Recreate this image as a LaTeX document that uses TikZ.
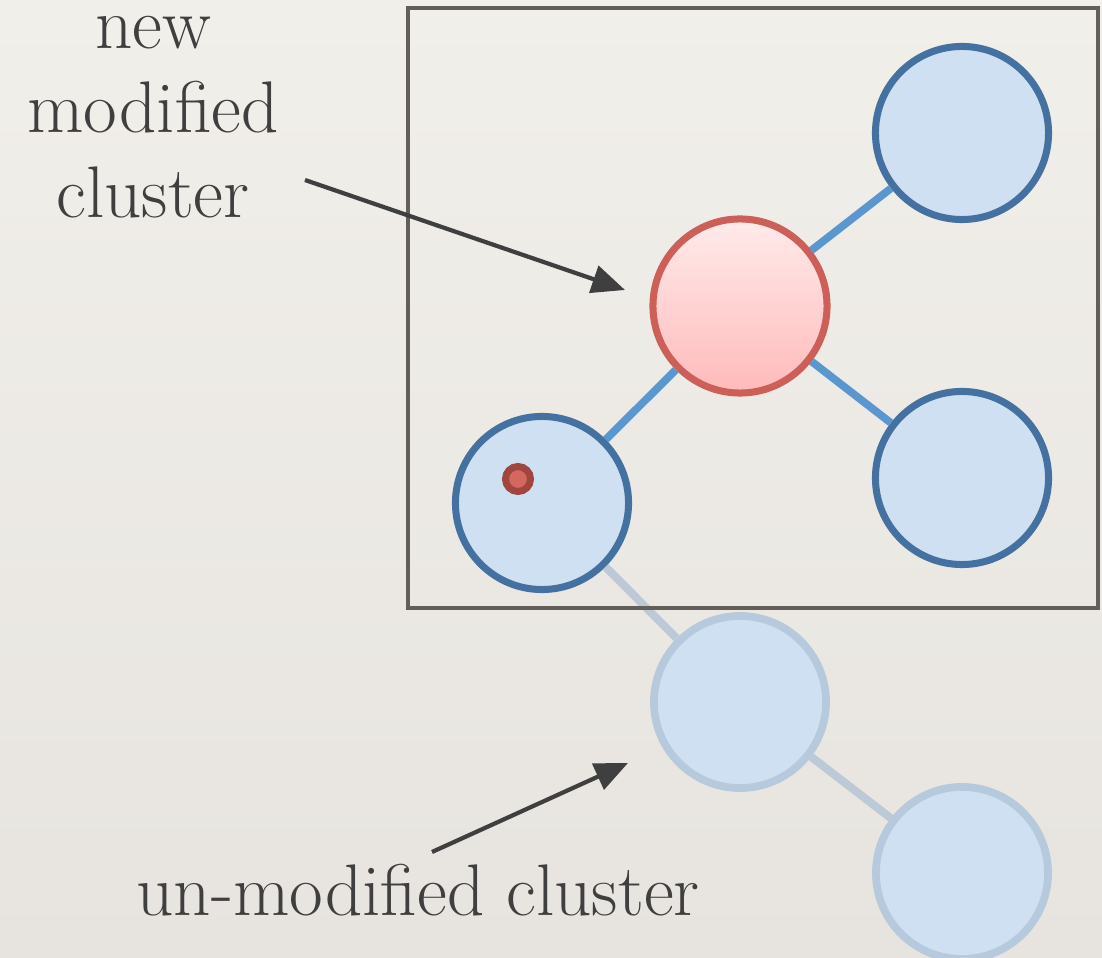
\documentclass[tikz,border=0pt]{standalone}
\usepackage{fontspec}
\usetikzlibrary{positioning,arrows.meta}

\definecolor{paper}{HTML}{F1EFEA}
\definecolor{paperdark}{HTML}{E7E4DF}
\definecolor{ink}{HTML}{3F3F3F}
\definecolor{boxgray}{HTML}{635E58}
\definecolor{nodefill}{HTML}{CFE0F3}
\definecolor{nodeline}{HTML}{44719F}
\definecolor{edgeblue}{HTML}{5B97CF}
\definecolor{redline}{HTML}{CC5F57}
\definecolor{dotline}{HTML}{A0463F}
\definecolor{dotfill}{HTML}{D4675E}
\definecolor{fadeline}{HTML}{B7C9DC}
\definecolor{fadeedge}{HTML}{BCCAD8}

\begin{document}
\begin{tikzpicture}[x=0.01cm,y=-0.01cm,
    cluster/.style={circle,draw=nodeline,fill=nodefill,line width=2pt,minimum size=1.73cm,inner sep=0pt},
    oldcluster/.style={circle,draw=fadeline,fill=nodefill,line width=2.2pt,minimum size=1.72cm,inner sep=0pt},
    link/.style={edgeblue,line width=2.2pt},
    oldlink/.style={fadeedge,line width=2.3pt},
    pointer/.style={ink,line width=1.2pt,-{Triangle[length=0.33cm,width=0.28cm]}},
    label/.style={text=ink,font=\fontsize{20.8}{24}\selectfont,align=center,inner sep=0pt}]

\shade[top color=paper,bottom color=paperdark] (0,0) rectangle (1102,958);
\useasboundingbox (0,0) rectangle (1102,958);

% the modified cluster
\node[circle,draw=redline,top color=red!8,bottom color=red!27,line width=2pt,
      minimum size=1.74cm,inner sep=0pt] (mod) at (740,306) {};
\foreach \name/\x/\y in {tr/962/133, rt/962/478, lf/542/503} {
    \node[cluster] (\name) at (\x,\y) {};
}
\node[circle,draw=dotline,fill=dotfill,line width=2pt,minimum size=0.25cm,inner sep=0pt] (dot) at (518,479) {};

% the old part
\node[oldcluster] (bm) at (740,702) {};
\node[oldcluster] (br) at (962,873) {};

\foreach \a in {tr,rt,lf} {
    \draw[link] (mod) -- (\a);
}
\draw[oldlink] (lf) -- (bm);
\draw[oldlink] (bm) -- (br);

\draw[boxgray,line width=1.3pt] (408,8) rectangle (1098,608);

% labels
\node[label] (newlbl) at (153,117) {new\\modified\\cluster};
\node[label] (oldlbl) at (418,890) {un-modified cluster};

\coordinate (a1) at (305,180);
\coordinate (h1) at (625,290);
\coordinate (a2) at (432,852);
\coordinate (h2) at (628,763);
\draw[pointer] (a1) -- (h1);
\draw[pointer] (a2) -- (h2);
\end{tikzpicture}
\end{document}
